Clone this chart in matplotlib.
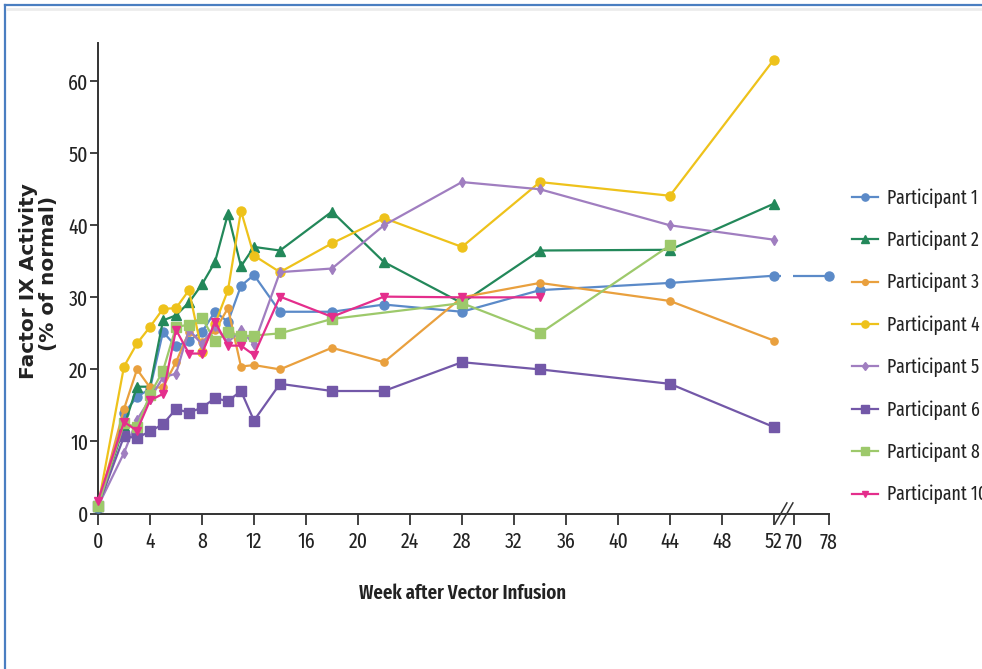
import numpy as np
import matplotlib
matplotlib.use("Agg")
import matplotlib.pyplot as plt
from matplotlib.lines import Line2D

# ---------------- data ----------------
weeks_main = [0, 2, 3, 4, 5, 6, 7, 8, 9, 10, 11, 12, 14, 18, 22, 28, 34, 44, 52]

p1_weeks = weeks_main + [78]
p1_vals = [0.8, 13.9, 16.2, 17.3, 25.2, 23.2, 24.0, 25.2, 28.0, 26.6, 31.6, 33.1,
           28.0, 28.0, 29.0, 28.0, 31.0, 32.0, 33.0, 33.0]

p2_weeks = weeks_main
p2_vals = [1.0, 12.1, 17.6, 17.6, 26.8, 27.5, 29.3, 31.8, 34.9, 41.6, 34.3, 37.0,
           36.5, 41.9, 34.9, 29.2, 36.5, 36.6, 43.0]

p3_weeks = weeks_main
p3_vals = [1.0, 14.5, 20.0, 17.5, 17.5, 21.0, 25.2, 23.8, 25.4, 28.5, 20.4, 20.6,
           20.0, 23.0, 21.0, 30.0, 32.0, 29.5, 24.0]

p4_weeks = weeks_main
p4_vals = [1.0, 20.4, 23.6, 25.9, 28.4, 28.5, 31.0, 22.4, 26.3, 31.0, 42.0, 35.8,
           33.5, 37.5, 41.0, 37.0, 46.0, 44.1, 63.0]

p5_weeks = weeks_main
p5_vals = [1.0, 8.4, 13.0, 15.9, 18.9, 19.4, 25.5, 23.5, 26.0, 23.8, 25.4, 23.5,
           33.5, 34.0, 40.0, 46.0, 45.0, 40.0, 38.0]

p6_weeks = weeks_main
p6_vals = [1.0, 10.7, 10.5, 11.4, 12.4, 14.5, 14.0, 14.7, 16.0, 15.6, 17.0, 12.9,
           18.0, 17.0, 17.0, 21.0, 20.0, 18.0, 12.0]

p8_weeks = [0, 2, 3, 4, 5, 6, 7, 8, 9, 10, 11, 12, 14, 18, 28, 34, 44]
p8_vals = [1.0, 12.5, 12.0, 16.5, 19.8, 25.9, 26.2, 27.2, 23.9, 25.2, 24.6, 24.7,
           25.0, 27.0, 29.2, 25.0, 37.2]

p10_weeks = [0, 2, 3, 4, 5, 6, 7, 8, 9, 10, 11, 12, 14, 18, 22, 28, 34]
p10_vals = [1.8, 12.7, 11.5, 15.7, 16.6, 25.5, 22.2, 22.2, 26.6, 23.3, 23.3, 22.0,
            30.1, 27.3, 30.1, 30.0, 30.0]

xticks = [0, 4, 8, 12, 16, 20, 24, 28, 32, 36, 40, 44, 48, 52, 70, 78]
yticks = [0, 10, 20, 30, 40, 50, 60]

# ---------------- style ----------------
C1 = "#5b8ac8"
C2 = "#23885a"
C3 = "#e9a03e"
C4 = "#eec21b"
C5 = "#a07ec0"
C6 = "#7358a8"
C8 = "#9dc96b"
C10 = "#e42e8c"

COND = ["Fira Sans Extra Condensed", "Barlow Condensed", "DejaVu Sans"]
plt.rcParams["font.family"] = COND

# broken x axis scale: 0-52 linear, compressed gap 52-70, then 70-78
GAP = 1.54
R = 0.3375


def fwd(w):
    w = np.asarray(w, dtype=float)
    return np.where(w <= 52, w,
                    np.where(w <= 70, 52 + (w - 52) * GAP / 18.0,
                             52 + GAP + (w - 70) * R))


def inv(s):
    s = np.asarray(s, dtype=float)
    return np.where(s <= 52, s,
                    np.where(s <= 52 + GAP, 52 + (s - 52) * 18.0 / GAP,
                             70 + (s - 52 - GAP) / R))


fig = plt.figure(figsize=(9.82, 6.69), dpi=100)
ax = fig.add_axes([98 / 982, 1 - 513.5 / 669, (829 - 98) / 982, (513.5 - 43) / 669])
ax.set_xscale("function", functions=(fwd, inv))
ax.set_xlim(0, 78)
ax.set_ylim(0, 65.3)

lw = 1.6
series = [
    (p1_weeks[:-1], p1_vals[:-1], C1, "o", 6.5, "Participant 1"),
    (p2_weeks, p2_vals, C2, "^", 6.5, "Participant 2"),
    (p3_weeks, p3_vals, C3, "o", 5.2, "Participant 3"),
    (p4_weeks, p4_vals, C4, "o", 6.5, "Participant 4"),
    (p5_weeks, p5_vals, C5, "d", 5.5, "Participant 5"),
    (p6_weeks, p6_vals, C6, "s", 6.5, "Participant 6"),
    (p8_weeks, p8_vals, C8, "s", 6.5, "Participant 8"),
    (p10_weeks, p10_vals, C10, "v", 6.0, "Participant 10"),
]
handles = []
for i, (x, y, c, m, ms, lab) in enumerate(series):
    h, = ax.plot(x, y, color=c, marker=m, markersize=ms, lw=lw, label=lab,
                 zorder=3 + i * 0.01, clip_on=False)
    handles.append(h)

# participant 1 tail across the axis break
ax.plot(p1_weeks[-2:], p1_vals[-2:], color=C1, lw=lw, zorder=2, clip_on=False)
ax.plot(p1_weeks[-1:], p1_vals[-1:], color=C1, marker="o", markersize=6.5,
        lw=0, zorder=3, clip_on=False)
ax.axvspan(58.3, 69.2, ymin=0.03, ymax=1, color="white", zorder=2.5, lw=0)

# axes styling
for s in ["top", "right"]:
    ax.spines[s].set_visible(False)
for s in ["left", "bottom"]:
    ax.spines[s].set_color("#333333")
    ax.spines[s].set_linewidth(1.4)

ax.set_xticks(xticks)
ax.set_xticklabels([str(t) for t in xticks])
ax.set_yticks(yticks)
ax.set_yticklabels([str(t) for t in yticks])
ax.tick_params(axis="x", direction="out", length=8, width=1.3, color="#333333",
               pad=5, labelsize=15.5, labelcolor="#222222")
ax.tick_params(axis="y", direction="out", length=5.5, width=1.3, color="#333333",
               pad=1.5, labelsize=15.5, labelcolor="#222222")
ax.minorticks_off()

# break marks on the x axis
trans = ax.get_xaxis_transform()
for wb in (58.3, 63.7):
    ax.plot([wb - 5.4, wb + 5.4], [-0.0225, 0.0225], transform=trans, color="#333333",
            lw=1.1, clip_on=False, zorder=5)

fig.text(463 / 982, 1 - 593 / 669, "Week after Vector Infusion", ha="center",
         va="center", fontsize=14.7, fontweight="semibold", color="#222222")
fig.text(29 / 982, 1 - 281 / 669, "Factor IX Activity", rotation=90,
         ha="center", va="center", fontsize=14.5, fontweight="bold",
         family=["DejaVu Sans"], color="#222222")
fig.text(48.5 / 982, 1 - 273 / 669, "(% of normal)", rotation=90,
         ha="center", va="center", fontsize=14.5, fontweight="bold",
         family=["DejaVu Sans"], color="#222222")

leg = fig.legend(handles=handles, loc="upper left",
                 bbox_to_anchor=(852 / 982, 1 - 188 / 669), frameon=False,
                 fontsize=13.9, handlelength=1.35, handletextpad=0.47,
                 labelspacing=1.18, borderpad=0, borderaxespad=0, markerscale=0.8)
for t in leg.get_texts():
    t.set_color("#222222")

# blue frame at top and left of the figure
fig.add_artist(Line2D([5 / 982, 1], [1 - 5 / 669, 1 - 5 / 669],
                      transform=fig.transFigure, color="#4a7ec1", lw=1.6))
fig.add_artist(Line2D([5 / 982, 5 / 982], [0, 1 - 5 / 669],
                      transform=fig.transFigure, color="#4a7ec1", lw=1.6))
fig.add_artist(Line2D([7 / 982, 1], [1 - 9 / 669, 1 - 9 / 669],
                      transform=fig.transFigure, color="#ececec", lw=2.0))

fig.savefig("out.png", dpi=100)
